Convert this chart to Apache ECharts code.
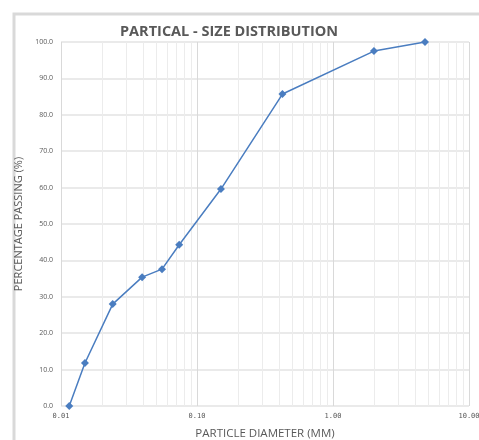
<!DOCTYPE html>
<html>
<head>
<meta charset="utf-8">
<script src="https://cdn.jsdelivr.net/npm/echarts@6/dist/echarts.min.js"></script>
<style>
  html, body { margin: 0; padding: 0; background: #ffffff; }
  #chart { width: 479px; height: 440px; }
</style>
</head>
<body>
<div id="chart"></div>
<script>
// Particle diameters (mm) and cumulative percentage passing
const diameters = [0.0115, 0.015, 0.024, 0.0395, 0.0553, 0.074, 0.15, 0.425, 2.0, 4.75];
const passing = [0.0, 11.8, 28.0, 35.4, 37.6, 44.3, 59.6, 85.7, 97.5, 100.0];

// Minor log gridlines (2..9 within each decade)
const minorGrid = [];
[0.01, 0.1, 1].forEach(function (d) {
  for (let k = 2; k <= 9; k++) minorGrid.push(+(d * k).toFixed(4));
});

const textColor = '#595959';
const chart = echarts.init(document.getElementById('chart'));

chart.setOption({
  animation: false,
  backgroundColor: '#ffffff',
  graphic: [{
    type: 'rect',
    silent: true,
    z: -10,
    shape: { x: 14, y: 14, width: 600, height: 600 },
    style: { fill: '#ffffff', stroke: '#d9d9d9', lineWidth: 3 }
  }],
  title: {
    text: 'PARTICAL - SIZE DISTRIBUTION',
    left: 115,
    top: 19,
    textStyle: {
      fontFamily: 'Open Sans',
      fontWeight: 'bold',
      fontSize: 14.5,
      color: textColor
    }
  },
  grid: { left: 61, right: 10, top: 42, bottom: 34, outerBoundsMode: 'none', containLabel: false },
  xAxis: {
    type: 'log',
    logBase: 10,
    min: 0.01,
    max: 10,
    name: 'PARTICLE DIAMETER (MM)',
    nameLocation: 'middle',
    nameGap: 22,
    nameTextStyle: { fontFamily: 'Open Sans', fontSize: 11.5, color: textColor },
    axisLine: { show: false },
    axisTick: { show: false },
    axisLabel: {
      fontFamily: 'DejaVu Sans Mono',
      fontSize: 7,
      color: textColor,
      margin: 7,
      formatter: function (v) { return v.toFixed(2); }
    },
    splitLine: { show: true, lineStyle: { color: '#d9d9d9', width: 1 } }
  },
  yAxis: {
    type: 'value',
    min: 0,
    max: 100,
    interval: 10,
    name: 'PERCENTAGE PASSING (%)',
    nameLocation: 'middle',
    nameGap: 32,
    nameTextStyle: { fontFamily: 'Open Sans', fontSize: 11, color: textColor },
    axisLine: { show: false },
    axisTick: { show: false },
    axisLabel: {
      fontFamily: 'Open Sans',
      fontSize: 7,
      color: textColor,
      margin: 8,
      formatter: function (v) { return v.toFixed(1); }
    },
    splitLine: { show: true, lineStyle: { color: '#e3e3e3', width: 1.5 } }
  },
  series: [{
    type: 'line',
    data: diameters.map(function (d, i) { return [d, passing[i]]; }),
    symbol: 'diamond',
    symbolSize: 8,
    lineStyle: { color: '#4a7dc0', width: 1.5 },
    itemStyle: { color: '#4a7dc0' },
    z: 5,
    markLine: {
      silent: true,
      symbol: 'none',
      label: { show: false },
      lineStyle: { color: '#ececec', width: 1, type: 'solid' },
      data: minorGrid.map(function (v) { return { xAxis: v }; }),
      z: 1
    }
  }]
});
</script>
</body>
</html>
